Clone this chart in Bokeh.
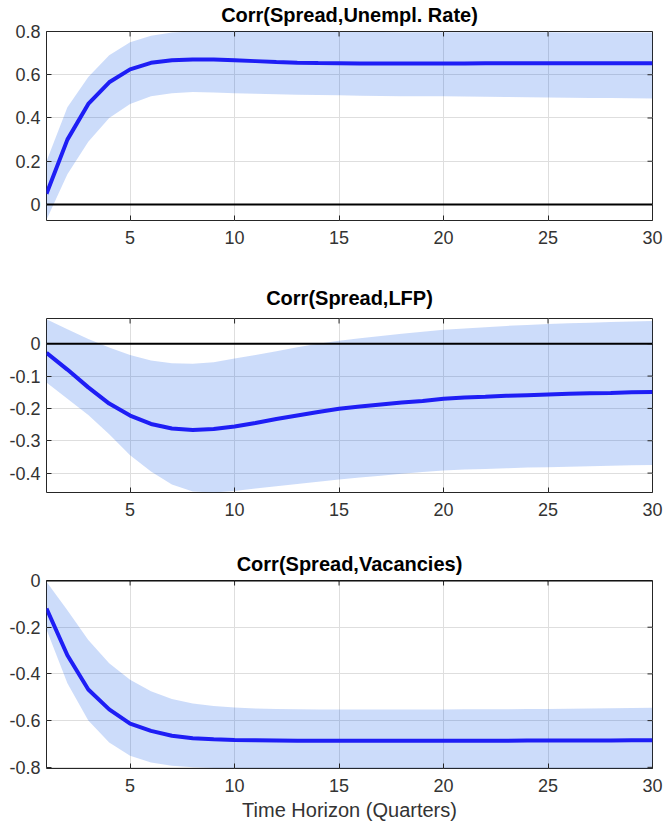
from bokeh.plotting import figure
from bokeh.layouts import column
from bokeh.models import ColumnDataSource, FixedTicker, Span, CustomJSTickFormatter
from bokeh.embed import file_html
from bokeh.resources import INLINE

# ---------------- data ----------------
horizon = list(range(1, 31))
x_ticks = [5, 10, 15, 20, 25, 30]

titles = ["Corr(Spread,Unempl. Rate)", "Corr(Spread,LFP)", "Corr(Spread,Vacancies)"]
x_label = "Time Horizon (Quarters)"

unemp_mean = [0.05, 0.30, 0.465, 0.565, 0.625, 0.655, 0.667, 0.671, 0.670, 0.667,
              0.663, 0.659, 0.656, 0.654, 0.653, 0.652, 0.652, 0.652, 0.652, 0.652,
              0.652, 0.653, 0.653, 0.653, 0.653, 0.653, 0.653, 0.653, 0.653, 0.653]
unemp_upper = [0.20, 0.45, 0.59, 0.69, 0.75, 0.78, 0.795, 0.80, 0.80, 0.80,
               0.80, 0.80, 0.799, 0.799, 0.798, 0.798, 0.798, 0.797, 0.797, 0.797,
               0.797, 0.796, 0.796, 0.796, 0.796, 0.795, 0.795, 0.795, 0.795, 0.795]
unemp_lower = [-0.07, 0.14, 0.29, 0.40, 0.465, 0.50, 0.515, 0.52, 0.518, 0.515,
               0.512, 0.51, 0.508, 0.506, 0.505, 0.503, 0.502, 0.501, 0.50, 0.50,
               0.499, 0.498, 0.497, 0.496, 0.495, 0.494, 0.493, 0.492, 0.491, 0.49]
unemp_yticks = [0, 0.2, 0.4, 0.6, 0.8]

lfp_mean = [-0.028, -0.08, -0.135, -0.185, -0.222, -0.248, -0.262, -0.267, -0.264, -0.256,
            -0.245, -0.233, -0.222, -0.211, -0.201, -0.194, -0.188, -0.182, -0.177, -0.17,
            -0.166, -0.164, -0.161, -0.159, -0.157, -0.155, -0.153, -0.152, -0.150, -0.149]
lfp_upper = [0.076, 0.045, 0.015, -0.012, -0.035, -0.052, -0.06, -0.062, -0.057, -0.046,
             -0.035, -0.023, -0.011, 0.0, 0.009, 0.017, 0.024, 0.031, 0.037, 0.043,
             0.047, 0.051, 0.055, 0.058, 0.061, 0.063, 0.065, 0.067, 0.069, 0.07]
lfp_lower = [-0.12, -0.17, -0.22, -0.28, -0.345, -0.395, -0.435, -0.457, -0.46, -0.455,
             -0.448, -0.441, -0.434, -0.427, -0.42, -0.414, -0.408, -0.402, -0.397, -0.392,
             -0.389, -0.387, -0.385, -0.383, -0.382, -0.380, -0.379, -0.377, -0.376, -0.375]
lfp_yticks = [-0.4, -0.3, -0.2, -0.1, 0]

vac_mean = [-0.12, -0.32, -0.467, -0.552, -0.613, -0.644, -0.665, -0.675, -0.68, -0.683,
            -0.684, -0.685, -0.686, -0.686, -0.686, -0.686, -0.686, -0.686, -0.686, -0.686,
            -0.686, -0.686, -0.686, -0.685, -0.685, -0.685, -0.685, -0.685, -0.684, -0.684]
vac_upper = [-0.005, -0.127, -0.255, -0.354, -0.425, -0.474, -0.507, -0.527, -0.537, -0.544,
             -0.548, -0.55, -0.551, -0.552, -0.552, -0.552, -0.552, -0.552, -0.552, -0.552,
             -0.551, -0.551, -0.551, -0.55, -0.55, -0.549, -0.548, -0.547, -0.546, -0.545]
vac_lower = [-0.21, -0.44, -0.60, -0.694, -0.75, -0.779, -0.793, -0.80, -0.803, -0.804,
             -0.804, -0.805, -0.805, -0.805, -0.805, -0.805, -0.805, -0.805, -0.805, -0.805,
             -0.805, -0.805, -0.805, -0.805, -0.805, -0.805, -0.805, -0.805, -0.805, -0.805]
vac_yticks = [-0.8, -0.6, -0.4, -0.2, 0]

zero_level = 0

# ---------------- styling ----------------
FONT = "Liberation Sans"
AX_COLOR = "#262626"
LABEL_COLOR = "#333333"
GRID_COLOR = "#dedede"
LINE_COLOR = "#1e1ef5"
BAND_COLOR = "#0050e6"
TICK_PX = 5
FIG_W = 663
BORDER_L = 46
BORDER_R = 11

fmt = CustomJSTickFormatter(code="return tick.toFixed(1).replace(/\\.0$/, '');")


def panel(title, mean, upper, lower, yticks, yrange, height, top, bottom,
          title_standoff, xlabel=None):
    src = ColumnDataSource(dict(x=horizon, m=mean, u=upper, l=lower))
    x0, x1 = horizon[0], horizon[-1]
    y0, y1 = yrange
    p = figure(width=FIG_W, height=height, x_range=(x0, x1), y_range=yrange,
               output_backend="svg", toolbar_location=None,
               min_border_left=BORDER_L, min_border_right=BORDER_R,
               min_border_top=top, min_border_bottom=bottom,
               title=title)
    p.title.align = "center"
    p.title.vertical_align = "top"
    p.title.text_font = FONT
    p.title.text_font_style = "bold"
    p.title.text_font_size = "20px"
    p.title.text_color = "black"
    p.title.offset = 0
    p.title.standoff = title_standoff

    p.varea(x="x", y1="l", y2="u", source=src, fill_color=BAND_COLOR, fill_alpha=0.2)
    p.add_layout(Span(location=zero_level, dimension="width", line_color="black", line_width=2))
    p.line(x="x", y="m", source=src, line_color=LINE_COLOR, line_width=4)

    # inward tick marks on the right and top edges of the box
    frame_w = FIG_W - BORDER_L - BORDER_R
    frame_h = height - top - bottom
    dx = (x1 - x0) * TICK_PX / frame_w
    dy = (y1 - y0) * TICK_PX / frame_h
    yt_in = [t for t in yticks if y0 <= t <= y1]
    p.segment(x0=[x1] * len(yt_in), y0=yt_in, x1=[x1 - dx] * len(yt_in), y1=yt_in,
              line_color=AX_COLOR, line_width=1)
    p.segment(x0=x_ticks, y0=[y1] * len(x_ticks), x1=x_ticks, y1=[y1 - dy] * len(x_ticks),
              line_color=AX_COLOR, line_width=1)

    xt = FixedTicker(ticks=x_ticks, minor_ticks=[])
    yt = FixedTicker(ticks=yticks, minor_ticks=[])
    p.xaxis.ticker = xt
    p.yaxis.ticker = yt
    p.xgrid.ticker = xt
    p.ygrid.ticker = yt
    p.yaxis.formatter = fmt
    p.xgrid.grid_line_color = GRID_COLOR
    p.ygrid.grid_line_color = GRID_COLOR

    for ax in p.axis:
        ax.axis_line_color = None
        ax.major_tick_in = TICK_PX
        ax.major_tick_out = 0
        ax.minor_tick_line_color = None
        ax.major_tick_line_color = AX_COLOR
        ax.major_label_text_font = FONT
        ax.major_label_text_font_size = "18px"
        ax.major_label_text_color = LABEL_COLOR
    p.yaxis.major_label_standoff = 6
    p.xaxis.major_label_standoff = 10

    if xlabel:
        ax = p.below[0]
        ax.axis_label = xlabel
        ax.axis_label_text_font = FONT
        ax.axis_label_text_font_style = "normal"
        ax.axis_label_text_font_size = "20px"
        ax.axis_label_text_color = LABEL_COLOR
        ax.axis_label_standoff = 4

    p.outline_line_color = AX_COLOR
    p.outline_line_width = 1
    p.background_fill_color = "white"
    p.border_fill_color = "white"
    return p


p1 = panel(titles[0], unemp_mean, unemp_upper, unemp_lower, unemp_yticks, (-0.074, 0.8),
           270, 30, 50, 7)
p2 = panel(titles[1], lfp_mean, lfp_upper, lfp_lower, lfp_yticks, (-0.46, 0.078),
           270, 48, 48, 15)
p3 = panel(titles[2], vac_mean, vac_upper, vac_lower, vac_yticks, (-0.805, 0.0),
           286, 40, 58, 8, xlabel=x_label)

layout = column(p1, p2, p3, spacing=0)
open("out.html", "w").write(file_html(layout, INLINE))
